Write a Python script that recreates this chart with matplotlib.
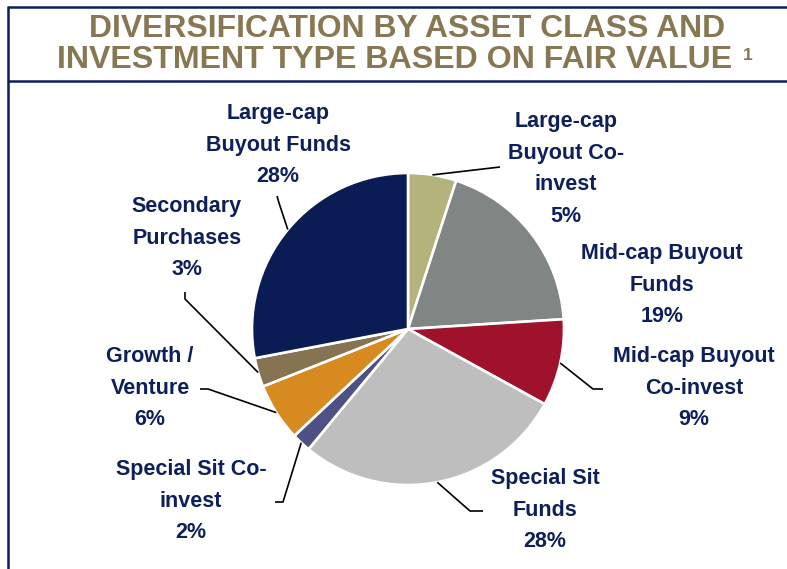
import matplotlib
matplotlib.use("Agg")
import matplotlib.pyplot as plt
from matplotlib import font_manager
import numpy as np

# ---------------- data ----------------
categories = ["Large-cap Buyout Co-invest", "Mid-cap Buyout Funds",
              "Mid-cap Buyout Co-invest", "Special Sit Funds",
              "Special Sit Co-invest", "Growth / Venture",
              "Secondary Purchases", "Large-cap Buyout Funds"]
values = [5, 19, 9, 28, 2, 6, 3, 28]
label_lines = [["Large-cap", "Buyout Co-", "invest"],
               ["Mid-cap Buyout", "Funds"],
               ["Mid-cap Buyout", "Co-invest"],
               ["Special Sit", "Funds"],
               ["Special Sit Co-", "invest"],
               ["Growth /", "Venture"],
               ["Secondary", "Purchases"],
               ["Large-cap", "Buyout Funds"]]
colors = ["#B3B37B", "#7F8684", "#A0112B", "#BEBEBE",
          "#4F5083", "#D68A1F", "#857352", "#0A1C54"]
title_lines = ["DIVERSIFICATION BY ASSET CLASS AND",
               "INVESTMENT TYPE BASED ON FAIR VALUE"]

# ---------------- layout (pixel coordinates) ----------------
W, H = 787, 569
CX, CY, R = 408, 329, 156
label_pos = [
    (566, 120, [(500, 167)]),
    (662, 252, None),
    (694, 355, [(593, 389), (603, 389)]),
    (545, 477, [(470, 511), (483, 511)]),
    (191, 468, [(283, 502), (275, 502)]),
    (150, 355, [(208, 389), (200, 389)]),
    (187, 205, [(185, 299), (185, 292)]),
    (278, 112, [(279, 203), (277, 196)]),
]
LINE_STEP = 31.5
NAVY_TXT = "#0E1F5B"
FRAME = "#0A1F5C"
TITLE_C = "#877752"

fig = plt.figure(figsize=(W / 100, H / 100), dpi=100)
ax = fig.add_axes([0, 0, 1, 1])

wedges, _ = ax.pie(values, colors=colors, startangle=-90, counterclock=True,
                   center=(CX, CY), radius=R,
                   wedgeprops=dict(edgecolor="white", linewidth=1.9))
ax.set_xlim(0, W)
ax.set_ylim(H, 0)
ax.set_aspect("auto")
ax.axis("off")

font = "Liberation Sans"
available = {f.name for f in font_manager.fontManager.ttflist}
title_font = "Liberation Sans Narrow" if "Liberation Sans Narrow" in available else font

for w, val, lines, (lx, ly, bends) in zip(wedges, values, label_lines, label_pos):
    allLines = lines + [f"{val}%"]
    for k, t in enumerate(allLines):
        ax.text(lx, ly + k * LINE_STEP + 7, t, ha="center", va="baseline",
                fontsize=15.5, fontweight="bold", color=NAVY_TXT, family=font)
    if bends:
        ang = np.deg2rad((w.theta1 + w.theta2) / 2)
        sx, sy = CX + R * np.cos(ang), CY + R * np.sin(ang)
        xs = [sx] + [p[0] for p in bends]
        ys = [sy] + [p[1] for p in bends]
        ax.plot(xs, ys, color="black", lw=1.2, solid_capstyle="butt", zorder=5)

# frame lines
ax.plot([8, W], [7, 7], color=FRAME, lw=1.8, solid_capstyle="butt")
ax.plot([8, W], [81, 81], color=FRAME, lw=1.8, solid_capstyle="butt")
ax.plot([8, 8], [6, H], color=FRAME, lw=1.8, solid_capstyle="butt")

# title lines, fitted to measured widths
fig.canvas.draw()
renderer = fig.canvas.get_renderer()
targets = [(89, 723, 37), (57, 732, 68)]
for t, (x0, x1, base) in zip(title_lines, targets):
    txt = ax.text(x0, base, t, ha="left", va="baseline", fontsize=22,
                  fontweight="bold", color=TITLE_C, family=title_font)
    bb = txt.get_window_extent(renderer)
    scale = (x1 - x0) / bb.width
    txt.set_fontsize(22 * scale)
ax.text(743, 60, "1", ha="left", va="baseline", fontsize=12.5,
        fontweight="bold", color=TITLE_C, family=font)

fig.savefig("out.png", dpi=100)
